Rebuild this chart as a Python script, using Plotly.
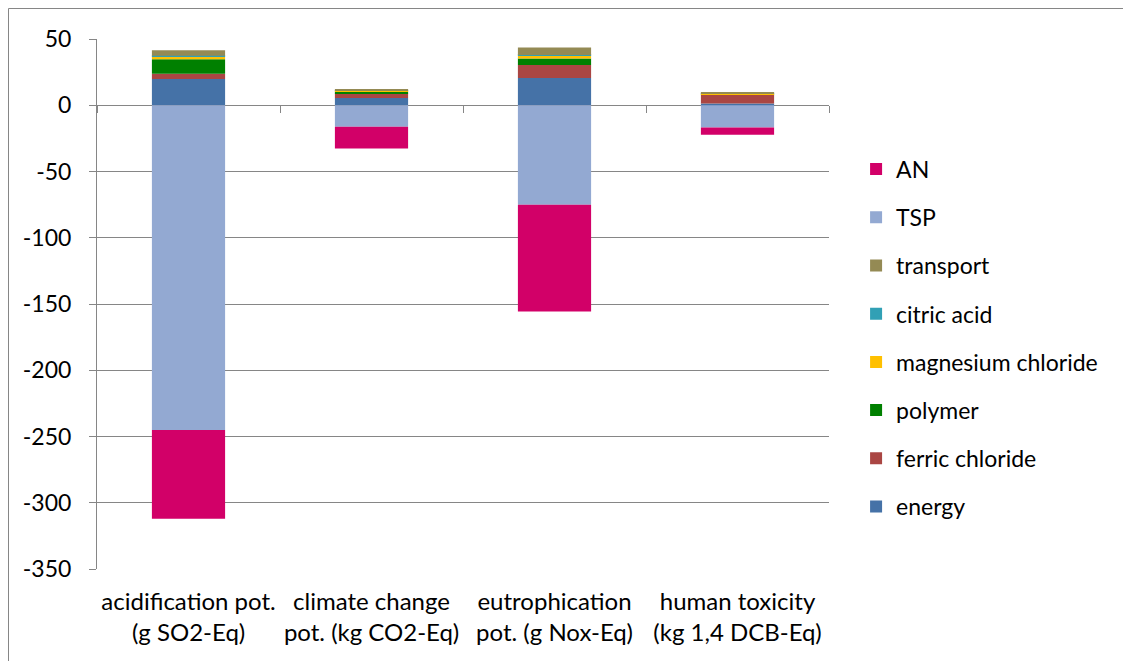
import plotly.graph_objects as go

categories = ["acidification pot.<br>(g SO2-Eq)", "climate change<br>pot. (kg CO2-Eq)",
              "eutrophication<br>pot. (g Nox-Eq)", "human toxicity<br>(kg 1,4 DCB-Eq)"]

energy = [19.9, 5.5, 20.6, 1.3]
ferric_chloride = [3.8, 3.5, 9.8, 6.5]
polymer = [11.0, 1.5, 4.8, 0.5]
magnesium_chloride = [2.3, 0.5, 2.5, 0.3]
citric_acid = [0.3, 0.2, 0.3, 0.1]
transport = [4.3, 0.8, 5.5, 0.6]
TSP = [-245, -16.3, -75, -16.8]
AN = [-67, -16.4, -80.6, -5.5]

y_ticks = [50, 0, -50, -100, -150, -200, -250, -300, -350]
y_tick_text = [str(v) for v in y_ticks]  # plain hyphen-minus as in the reference

series = [
    ("energy", energy, "#4572A7"),
    ("ferric chloride", ferric_chloride, "#AA4643"),
    ("polymer", polymer, "#008000"),
    ("magnesium chloride", magnesium_chloride, "#FFC000"),
    ("citric acid", citric_acid, "#31A0B5"),
    ("transport", transport, "#948A54"),
    ("TSP", TSP, "#93A9D2"),
    ("AN", AN, "#D20068"),
]

fig = go.Figure()
n = len(series)
for i, (name, vals, col) in enumerate(series):
    fig.add_trace(go.Bar(x=categories, y=vals, name=name, marker_color=col,
                         marker_line_width=0, legendgroup=name, legendrank=n - i))

# category boundary tick marks on the zero line
fig.add_trace(go.Scatter(x=[None], y=[None], xaxis="x2", showlegend=False, hoverinfo="skip"))

W, H = 1123, 653
L, R, T, B = 89, 302, 31, 92
pw, ph = W - L - R, H - T - B

fig.update_layout(
    width=W, height=H,
    barmode="relative", bargap=0.6,
    paper_bgcolor="white", plot_bgcolor="white",
    margin=dict(l=L, r=R, t=T, b=B),
    font=dict(family="Lato", size=23, color="black"),
    showlegend=True,
    legend=dict(traceorder="grouped", tracegroupgap=15.3, x=1.037, xanchor="left",
                y=0.795, yanchor="top", font=dict(size=23), bgcolor="rgba(0,0,0,0)"),
    xaxis=dict(showgrid=False, showline=False, ticks="", tickfont=dict(size=24),
               ticklabelstandoff=16),
    xaxis2=dict(overlaying="x", anchor="free", position=0.875, range=[-0.5, 3.5],
                tickvals=[-0.5, 0.5, 1.5, 2.5, 3.5], ticks="outside", ticklen=7,
                tickcolor="#868686", showticklabels=False, showgrid=False,
                showline=False, zeroline=False),
    yaxis=dict(range=[-350, 50], tickvals=y_ticks, ticktext=y_tick_text,
               showgrid=True, gridcolor="#868686", gridwidth=1,
               zeroline=False, showline=True, linecolor="#868686", ticks="outside",
               ticklen=7, tickcolor="#868686", tickfont=dict(size=23),
               ticklabelstandoff=13),
    shapes=[dict(type="rect", xref="paper", yref="paper",
                 x0=(0.5 - L) / pw, x1=(W + 50 - L) / pw,
                 y0=-(B + 50) / ph, y1=1 + (T - 0.5) / ph,
                 line=dict(color="#868686", width=1), fillcolor="rgba(0,0,0,0)", layer="below")],
)

fig.write_html("out.html")
